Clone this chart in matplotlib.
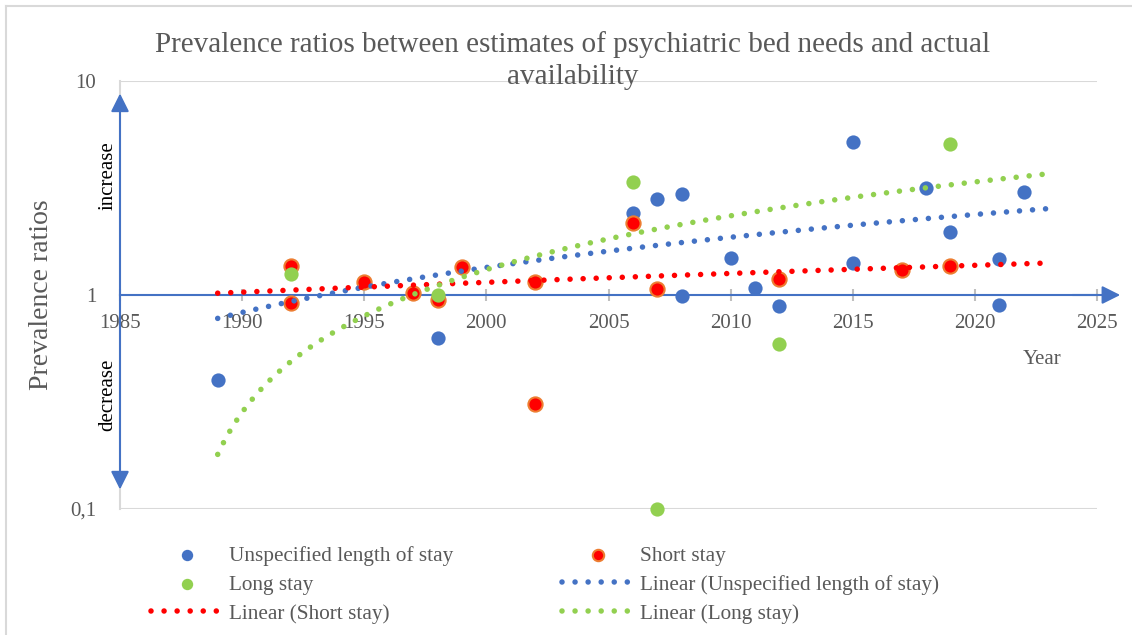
import numpy as np
import matplotlib.pyplot as plt
from matplotlib.lines import Line2D

plt.rcParams['font.family'] = ['Liberation Serif', 'DejaVu Serif']

# values
unspec_year = [1989, 1998, 2006, 2007, 2008, 2008, 2010, 2011, 2012, 2015, 2015, 2018, 2019, 2021, 2021, 2022]
unspec_ratio = [0.40, 0.63, 2.42, 2.82, 2.97, 0.99, 1.49, 1.08, 0.89, 5.17, 1.41, 3.16, 1.98, 1.47, 0.90, 3.04]

short_year = [1992, 1992, 1995, 1997, 1998, 1999, 2002, 2002, 2006, 2007, 2012, 2017, 2019]
short_ratio = [1.37, 0.92, 1.15, 1.02, 0.95, 1.35, 1.15, 0.31, 2.18, 1.07, 1.19, 1.31, 1.37]

long_year = [1992, 1998, 2006, 2007, 2012, 2019]
long_ratio = [1.25, 1.00, 3.37, 0.10, 0.59, 5.08]

trend_span = [1989, 2023]   # forecast range of the excel trendlines
x_ticks = [1985, 1990, 1995, 2000, 2005, 2010, 2015, 2020, 2025]
y_ticks = [0.1, 1, 10]
y_ticklabels = ['0,1', '1', '10']

BLUE = '#4472C4'
RED = '#FF0000'
ORANGE = '#ED7D31'
GREEN = '#92D050'
GRID = '#D9D9D9'
TXT = '#595959'

W, H = 1132, 635
fig = plt.figure(figsize=(W / 100, H / 100), dpi=100)
ax = fig.add_axes([120 / W, (H - 509) / H, (1097 - 120) / W, (509 - 81) / H])
ax.set_yscale('log')
ax.set_xlim(1985, 2025)
ax.set_ylim(0.1, 10)

# frame of the chart area
fig.add_artist(Line2D([5.5 / W, 5.5 / W], [0, 1 - 5.5 / H], color=GRID, lw=1.5))
fig.add_artist(Line2D([5.5 / W, 1], [1 - 5.5 / H, 1 - 5.5 / H], color=GRID, lw=1.5))

for s in ['top', 'right']:
    ax.spines[s].set_visible(False)
ax.spines['left'].set_color(GRID)
ax.spines['left'].set_linewidth(1.5)
ax.spines['bottom'].set_position(('data', 1))
ax.spines['bottom'].set_color(BLUE)
ax.spines['bottom'].set_linewidth(1.5)
ax.axhline(10, color=GRID, lw=1.5, zorder=0)
ax.axhline(0.1, color=GRID, lw=1.5, zorder=0)

ax.set_xticks(x_ticks)
ax.set_yticks(y_ticks)
ax.set_yticklabels(y_ticklabels)
ax.yaxis.set_minor_locator(plt.NullLocator())
ax.tick_params(axis='x', direction='inout', length=9, width=1.5, color='#BFBFBF',
               labelsize=15, labelcolor=TXT, pad=9)
ax.tick_params(axis='y', length=0, labelsize=15, labelcolor=TXT, pad=17)

# blue arrows for the axes
arr = dict(arrowstyle='-|>,head_length=1.1,head_width=0.55', color=BLUE, lw=1.5,
           shrinkA=0, shrinkB=0, mutation_scale=10)
ax.annotate('', xy=(1985, 8.74), xytext=(1985, 1), arrowprops=arr, annotation_clip=False)
ax.annotate('', xy=(1985, 0.1234), xytext=(1985, 1), arrowprops=arr, annotation_clip=False)
ax.annotate('', xy=(2025.95, 1), xytext=(2024, 1), arrowprops=arr, annotation_clip=False)

ms = 105
ax.scatter(unspec_year, unspec_ratio, s=ms, color=BLUE, lw=0, zorder=3, clip_on=False,
           label='Unspecified length of stay')
ax.scatter(short_year, short_ratio, s=ms, facecolor=RED, edgecolor=ORANGE, lw=1.5, zorder=3,
           clip_on=False, label='Short stay')
ax.scatter(long_year, long_ratio, s=ms, color=GREEN, lw=0, zorder=3, clip_on=False,
           label='Long stay')

xs = np.linspace(trend_span[0], trend_span[1], 400)
dots = (0, (0.001, 2.35))
for yrs, vals, c, name in [(unspec_year, unspec_ratio, BLUE, 'Linear (Unspecified length of stay)'),
                           (short_year, short_ratio, RED, 'Linear (Short stay)'),
                           (long_year, long_ratio, GREEN, 'Linear (Long stay)')]:
    k = np.polyfit(yrs, vals, 1)
    ax.plot(xs, np.polyval(k, xs), color=c, lw=4, ls=dots, dash_capstyle='round',
            zorder=4, label=name)

fig.text(1042 / W, (H - 360) / H, 'Year', fontsize=15, color=TXT, ha='center', va='center')
fig.text(108 / W, (H - 176) / H, 'increase', rotation=90, fontsize=15, ha='center', va='center')
fig.text(108 / W, (H - 395) / H, 'decrease', rotation=90, fontsize=15, ha='center', va='center')
fig.text(42 / W, (H - 295) / H, 'Prevalence ratios', rotation=90, fontsize=20, color=TXT,
         ha='center', va='center')
fig.text(573 / W, (H - 61) / H,
         'Prevalence ratios between estimates of psychiatric bed needs and actual\navailability',
         fontsize=21, color=TXT, ha='center', va='center', multialignment='center',
         linespacing=1.3)

h, l = ax.get_legend_handles_labels()
order = [0, 2, 4, 1, 3, 5]
fig.legend([h[i] for i in order], [l[i] for i in order], ncol=2, frameon=False,
           loc='upper left', bbox_to_anchor=(151 / W, (H - 546) / H), borderpad=0,
           borderaxespad=0, fontsize=15.3, labelcolor=TXT, handlelength=3.4,
           handletextpad=0.25, columnspacing=5.15, labelspacing=0.42, markerscale=0.8)

fig.savefig('out.png', dpi=100)
